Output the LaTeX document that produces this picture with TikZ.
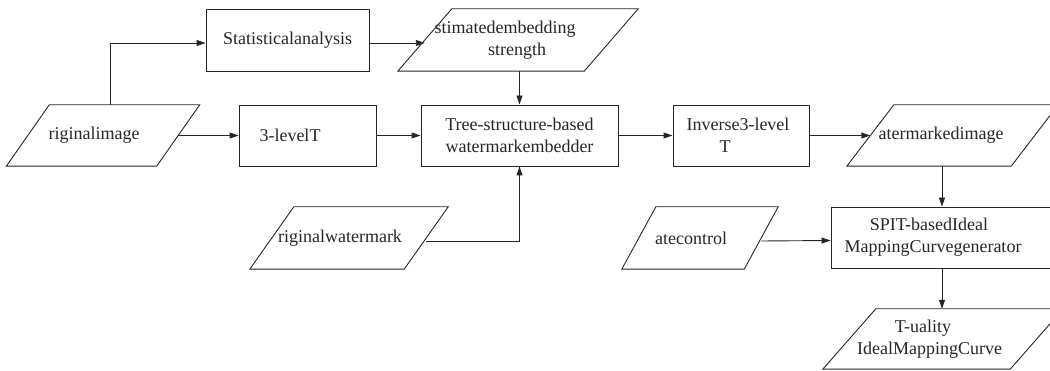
\documentclass[tikz,border=0pt]{standalone}
\usepackage{fontspec}
\setmainfont{Liberation Serif}
\usetikzlibrary{arrows.meta}
\newcommand\padr[1]{\hspace*{#1}}
\newcommand\drawpara[2]{\draw[line width=0.9pt, draw=black!85] ([xshift=#2]#1.north west) -- ([xshift=#2]#1.north east) -- ([xshift=-#2]#1.south east) -- ([xshift=-#2]#1.south west) -- cycle;}
\begin{document}
\begin{tikzpicture}[x=1pt,y=-1pt,
  every node/.style={font=\fontsize{18}{22}\selectfont, inner sep=0pt, align=center, text=black!85},
  box/.style={draw=black!85, rectangle, line width=0.9pt},
  para/.style={rectangle, draw=none},
  arr/.style={-{Triangle[length=9pt,width=6pt]}, line width=0.9pt, draw=black!85},
  ]
\useasboundingbox (0,0) rectangle (1050,371);
% boxes
\node[box, minimum width=163pt, minimum height=62pt] (stat) at (287.5,40) {Statisticalanalysis};
\node[box, minimum width=137pt, minimum height=61pt] (dwt) at (307.5,135.5) {3-levelT\padr{35pt}};
\node[box, minimum width=197pt, minimum height=61pt] (tree) at (519.5,135.5) {Tree-structure-based\\watermarkembedder};
\node[box, minimum width=136pt, minimum height=61pt] (inv) at (741,135.5) {Inverse3-level\padr{6pt}\\T\padr{32pt}};
\node[box, minimum width=222pt, minimum height=61pt] (spit) at (942,237.5) {SPIT-basedIdeal\padr{26pt}\\MappingCurvegenerator\padr{18pt}};
% parallelograms
\node[para, minimum width=186pt, minimum height=62pt] (est) at (518,40) {stimatedembedding\padr{26pt}\\strength\padr{2pt}};
\node[para, minimum width=150pt, minimum height=61pt] (oi) at (103,135.5) {riginalimage\padr{18pt}};
\node[para, minimum width=164pt, minimum height=61pt] (wi) at (952.5,135.5) {atermarkedimage\padr{23pt}};
\node[para, minimum width=154pt, minimum height=62pt] (ow) at (349,238) {riginalwatermark\padr{18pt}};
\node[para, minimum width=122pt, minimum height=62pt] (rate) at (700,238) {atecontrol\padr{18pt}};
\node[para, minimum width=187pt, minimum height=60pt] (tq) at (943,339) {T-uality\padr{40pt}\\IdealMappingCurve\padr{27pt}};
\drawpara{est}{27pt}
\drawpara{oi}{21.5pt}
\drawpara{wi}{23.5pt}
\drawpara{ow}{22pt}
\drawpara{rate}{17pt}
\drawpara{tq}{26.5pt}
% connectors
\draw[arr] ([xshift=7pt]oi.north) |- ([yshift=-3pt]stat.west);
\draw[arr] ([yshift=-3pt]stat.east) -- ([yshift=-3pt]est.west);
\draw[arr] (oi.east) -- (dwt.west);
\draw[arr] (dwt.east) -- (tree.west);
\draw[arr] (est.south -| tree.north) -- (tree.north);
\draw[arr] ([yshift=-3pt]ow.east) -| (tree.south);
\draw[arr] (tree.east) -- (inv.west);
\draw[arr] (inv.east) -- (wi.west);
\draw[arr] (wi.south -| spit.north) -- (spit.north);
\draw[arr] ([yshift=-3pt]rate.east) -- ([yshift=-3pt]spit.west);
\draw[arr] (spit.south) -- (spit.south |- tq.north);
\end{tikzpicture}
\end{document}
